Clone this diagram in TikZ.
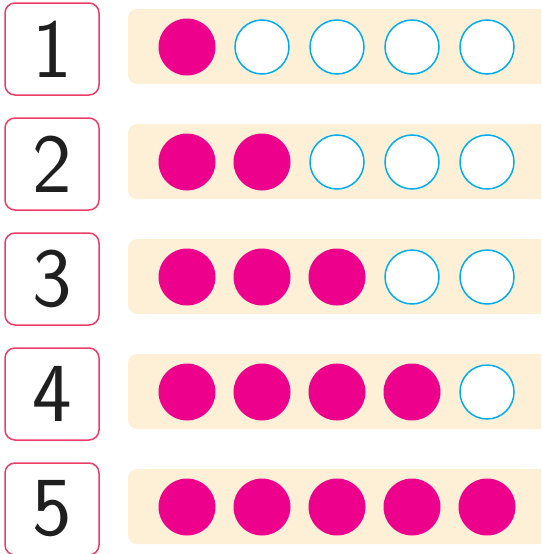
\documentclass[tikz,border=0pt]{standalone}
\usepackage{fontspec}
\definecolor{mag}{RGB}{236,0,140}
\definecolor{cy}{RGB}{0,174,239}
\definecolor{bandcol}{RGB}{254,240,215}
\definecolor{boxred}{RGB}{236,60,104}
\begin{document}
\begin{tikzpicture}[x=1pt,y=-1pt,
  numbox/.style={draw=boxred, line width=1.5pt, rounded corners=10pt, fill=white,
    minimum width=94pt, minimum height=92pt, inner sep=0pt,
    font=\sffamily\fontsize{84}{84}\selectfont, text=black!88},
  bandbox/.style={fill=bandcol, rounded corners=9pt},
  fulldot/.style={circle, fill=mag, minimum size=57pt, inner sep=0pt},
  emptydot/.style={circle, draw=cy, line width=1.5pt, fill=white, minimum size=54pt, inner sep=0pt}]
\useasboundingbox (0,0) rectangle (541,554);
\clip (0,0) rectangle (541,554);
\foreach \i in {1,...,5}{
  \pgfmathsetmacro{\yy}{3+115*(\i-1)}
  \fill[bandbox] (128,\yy+6) rectangle (570,\yy+81);
  \node[numbox] (n\i) at (52,\yy+46) {\i};
  \foreach \j in {1,...,5}{
    \ifnum\j>\i
      \node[emptydot] (c\i-\j) at (187+75*\j-75,\yy+44) {};
    \else
      \node[fulldot] (c\i-\j) at (187+75*\j-75,\yy+44) {};
    \fi
  }
}
\end{tikzpicture}
\end{document}
